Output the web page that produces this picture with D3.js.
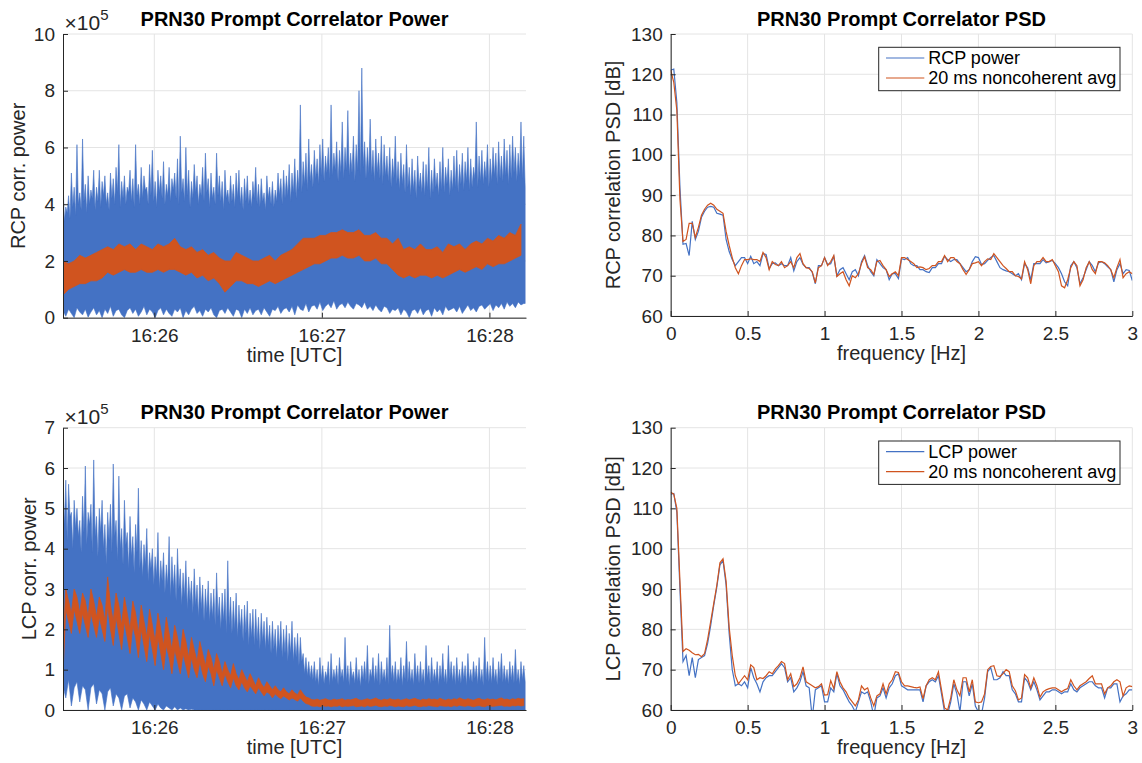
<!DOCTYPE html>
<html>
<head>
<meta charset="utf-8">
<script src="https://cdn.jsdelivr.net/npm/d3@7"></script>
<style>
  body { margin: 0; background: #fff; }
  svg { display: block; }
</style>
</head>
<body>
<svg id="fig" width="1142" height="763"></svg>
<script>
// ---------------------------------------------------------------------------
// PRN30 prompt correlator power (time domain, ×10^5) and its PSD, RCP and LCP.
// Time-domain traces are stored as decimated envelopes: per-second peaks,
// troughs and floors of the raw power, and a hi/lo band for the 20 ms
// noncoherent average.
// ---------------------------------------------------------------------------

// Time axis: 16:25:27.3 .. 16:28:13.1 UTC
const timeStart = Date.UTC(2016, 0, 1, 16, 25, 27, 300);
const timeEnd   = Date.UTC(2016, 0, 1, 16, 28, 13, 100);
const timeTickLabels = ["16:26", "16:27", "16:28"];

// ---- RCP raw power (×10^5) ----
// per-second peaks
const rcpPeak = [
  4.8,3.9,4.3,5.1,4.6,6.1,4.4,6.3,4.7,5.0,
  4.5,5.2,4.6,5.2,4.8,5.0,4.4,5.1,4.9,5.3,
  6.1,4.8,5.0,4.6,5.2,4.9,6.1,4.7,5.3,5.0,
  4.6,5.4,5.9,4.8,5.2,5.0,5.5,4.7,5.3,4.9,
  5.1,5.6,6.4,4.9,6.0,5.2,4.8,5.4,5.0,4.7,
  5.3,5.8,4.9,5.1,4.6,5.8,5.0,4.8,5.2,4.5,
  5.0,4.7,5.1,5.2,4.6,4.9,5.0,4.5,4.8,5.3,
  4.7,4.9,4.4,5.0,4.6,4.8,4.5,5.1,4.9,5.2,
  5.0,5.4,5.1,5.6,5.2,7.5,5.5,5.8,6.3,5.4,
  5.9,5.6,6.1,6.3,5.7,6.0,7.5,5.8,6.2,5.9,
  6.9,6.0,7.3,5.8,6.4,6.1,8.0,8.8,6.2,6.0,
  7.0,5.9,6.3,5.8,6.4,6.1,5.7,6.0,5.6,6.4,
  5.5,5.8,5.4,6.1,5.3,5.6,5.2,5.7,5.1,5.5,
  5.4,6.0,5.2,5.6,5.1,5.5,6.0,5.3,5.6,5.2,
  5.7,5.9,5.4,5.8,5.5,6.0,5.6,5.3,6.9,5.7,
  5.9,5.5,6.1,5.6,6.0,5.8,6.2,5.7,6.3,5.9,
  6.1,6.4,6.0,5.8,6.9,6.4
];
// per-second troughs of the upper edge (half a second after each peak)
const rcpTrough = [
  3.4,3.7,3.5,3.9,3.6,4.0,3.8,4.1,3.7,4.0,
  4.2,3.8,4.1,3.9,4.3,4.0,3.8,4.2,4.0,4.4,
  3.9,4.2,4.0,4.4,4.1,3.9,4.3,4.0,4.2,4.5,
  4.0,4.3,4.1,3.9,4.4,4.2,4.0,4.3,4.1,4.5,
  4.2,4.0,4.4,4.1,4.3,3.9,4.2,4.4,4.0,4.3,
  4.1,4.4,3.9,4.2,4.0,4.3,4.1,3.8,4.2,4.0,
  4.1,3.9,4.2,4.0,3.8,4.1,4.0,3.9,4.2,4.0,
  3.9,4.1,3.8,4.2,4.0,3.9,4.1,4.3,4.0,4.2,
  4.3,4.1,4.4,4.2,4.5,4.4,4.7,4.5,4.8,4.6,
  4.9,4.7,5.0,4.8,5.1,4.9,5.0,5.2,4.8,5.1,
  4.9,5.2,5.0,5.1,4.8,5.2,5.0,5.3,4.9,5.1,
  5.0,4.8,5.1,4.9,4.7,5.0,4.8,4.6,4.9,4.7,
  4.5,4.7,4.4,4.6,4.3,4.5,4.2,4.6,4.4,4.3,
  4.5,4.2,4.4,4.6,4.3,4.5,4.4,4.7,4.3,4.5,
  4.6,4.4,4.7,4.5,4.8,4.5,4.6,4.9,4.6,4.8,
  4.7,4.9,4.6,4.8,5.0,4.7,4.9,4.8,5.0,4.7,
  4.9,5.1,4.8,5.0,4.9,4.6
];
// per-second floor of the lower edge
const rcpFloor = [
  0.25,0.05,0.3,0.15,0.0,0.35,0.2,0.1,0.3,0.02,
  0.2,0.35,0.1,0.25,0.0,0.3,0.15,0.4,0.05,0.25,
  0.3,0.1,0.0,0.25,0.35,0.15,0.3,0.05,0.2,0.4,
  0.1,0.3,0.2,0.0,0.25,0.35,0.1,0.3,0.15,0.05,
  0.3,0.2,0.35,0.0,0.25,0.1,0.3,0.4,0.15,0.25,
  0.05,0.3,0.2,0.35,0.1,0.0,0.25,0.3,0.15,0.35,
  0.2,0.05,0.3,0.25,0.0,0.3,0.15,0.35,0.1,0.25,
  0.3,0.1,0.35,0.2,0.05,0.3,0.25,0.4,0.15,0.3,
  0.35,0.2,0.4,0.1,0.45,0.3,0.25,0.5,0.2,0.4,
  0.45,0.3,0.55,0.25,0.4,0.5,0.35,0.6,0.3,0.45,
  0.5,0.35,0.55,0.4,0.3,0.5,0.45,0.35,0.55,0.3,
  0.4,0.25,0.45,0.3,0.2,0.4,0.35,0.15,0.3,0.25,
  0.35,0.1,0.3,0.2,0.0,0.25,0.3,0.15,0.35,0.1,
  0.25,0.3,0.05,0.35,0.2,0.3,0.1,0.4,0.25,0.3,
  0.35,0.2,0.4,0.15,0.3,0.45,0.25,0.35,0.2,0.4,
  0.45,0.3,0.4,0.5,0.25,0.45,0.35,0.5,0.3,0.55,
  0.4,0.5,0.35,0.55,0.45,0.5
];
// ---- RCP 20 ms noncoherent average band (×10^5), every 2 s ----
const rcpAvgHi = [
  2.0,1.9,2.0,2.2,2.1,2.2,2.3,2.4,2.5,2.4,
  2.6,2.5,2.6,2.4,2.6,2.5,2.4,2.6,2.5,2.6,
  2.8,2.5,2.4,2.5,2.3,2.4,2.2,2.3,2.1,2.0,
  2.0,2.3,2.2,2.1,2.0,2.0,2.1,2.2,2.0,2.2,
  2.3,2.4,2.6,2.8,2.8,2.8,2.9,2.9,3.0,3.0,
  3.1,3.0,3.0,3.1,2.9,2.9,3.0,2.8,2.8,2.6,
  2.8,2.4,2.5,2.4,2.6,2.4,2.4,2.5,2.3,2.6,
  2.5,2.6,2.4,2.6,2.7,2.6,2.8,2.7,2.9,2.8,
  3.0,2.9,3.3
];
const rcpAvgLo = [
  0.8,1.0,1.1,1.2,1.2,1.3,1.3,1.4,1.6,1.5,
  1.6,1.7,1.6,1.6,1.7,1.6,1.6,1.7,1.6,1.7,
  1.7,1.6,1.5,1.6,1.4,1.5,1.3,1.4,1.2,0.9,
  1.1,1.3,1.3,1.2,1.2,1.1,1.2,1.3,1.2,1.3,
  1.4,1.5,1.6,1.7,1.8,1.9,1.9,2.0,2.1,2.1,
  2.2,2.1,2.1,2.2,2.0,2.0,2.1,1.9,1.9,1.7,
  1.5,1.4,1.5,1.4,1.5,1.5,1.4,1.5,1.4,1.5,
  1.6,1.7,1.6,1.7,1.8,1.7,1.9,1.8,1.9,1.9,
  2.0,2.1,2.2
];

// ---- LCP raw power (×10^5) ----
const lcpPeak = [
  5.5,5.7,5.6,4.9,5.2,5.0,4.7,5.3,6.05,4.9,
  5.1,6.2,4.8,5.0,5.2,4.6,4.9,5.1,6.1,4.7,
  5.8,4.5,5.2,4.4,4.8,4.3,4.6,5.5,4.2,4.1,
  4.5,3.9,4.0,3.8,4.4,3.7,3.9,3.6,4.3,3.8,
  3.6,4.0,3.5,3.4,3.7,3.3,3.2,3.5,3.1,3.3,
  3.1,3.0,3.2,2.9,3.0,3.4,2.8,2.9,3.0,3.7,
  2.8,2.7,2.9,2.6,2.5,2.6,2.7,2.4,2.5,2.5,
  2.3,2.4,2.2,2.3,2.1,2.2,2.0,2.1,2.2,2.0,
  2.1,1.9,2.2,1.8,1.9,1.8,1.4,1.3,1.2,1.1,
  1.2,1.0,1.3,1.1,0.95,1.2,1.4,1.0,1.1,1.3,
  1.0,1.8,1.1,1.2,0.95,1.3,1.0,1.1,1.2,1.6,
  1.0,1.3,1.1,1.4,1.2,1.0,1.3,2.1,1.1,1.2,
  1.0,1.3,1.1,1.7,1.2,1.0,1.4,1.1,1.2,1.0,
  1.6,1.1,1.3,1.0,1.2,1.1,1.4,1.0,1.6,1.2,
  1.1,1.3,1.0,1.2,1.1,1.4,1.0,1.2,1.1,1.3,
  1.0,1.8,1.2,1.1,1.3,1.0,1.2,1.4,1.1,1.0,
  1.2,1.1,1.5,1.0,1.2,1.1
];
const lcpTrough = [
  4.6,4.2,4.8,4.0,4.5,4.3,3.9,4.4,4.1,4.6,
  3.9,4.3,3.8,4.4,4.0,3.6,4.2,3.9,4.3,3.7,
  4.0,3.6,4.1,3.5,3.8,3.4,3.9,3.5,3.3,3.6,
  3.2,3.5,3.1,3.3,3.0,3.2,2.9,3.1,2.8,3.0,
  2.7,3.0,2.6,2.8,2.5,2.7,2.4,2.6,2.3,2.5,
  2.2,2.4,2.2,2.3,2.1,2.3,2.0,2.2,1.9,2.1,
  1.9,2.0,1.8,2.0,1.7,1.9,1.6,1.8,1.6,1.7,
  1.5,1.7,1.5,1.6,1.4,1.5,1.3,1.5,1.3,1.4,
  1.2,1.4,1.2,1.3,1.1,1.2,0.9,0.85,0.8,0.75,
  0.7,0.6,0.75,0.65,0.8,0.6,0.7,0.75,0.62,0.8,
  0.68,0.72,0.6,0.78,0.66,0.7,0.58,0.75,0.7,0.64,
  0.8,0.66,0.7,0.6,0.74,0.68,0.62,0.78,0.7,0.65,
  0.72,0.6,0.76,0.68,0.7,0.62,0.75,0.66,0.7,0.6,
  0.78,0.65,0.7,0.72,0.6,0.74,0.68,0.64,0.76,0.7,
  0.62,0.7,0.66,0.75,0.6,0.72,0.68,0.78,0.64,0.7,
  0.6,0.74,0.7,0.66,0.72,0.62,0.76,0.68,0.7,0.64,
  0.73,0.67,0.7,0.62,0.75,0.7
];
// floor for the first minute; it stays at zero afterwards
const lcpFloor = [
  0.6,0.3,0.75,0.1,0.55,0.7,0.2,0.6,0.5,0.0,
  0.55,0.65,0.15,0.5,0.4,0.0,0.45,0.55,0.1,0.4,
  0.3,0.0,0.35,0.4,0.05,0.3,0.2,0.0,0.25,0.15,
  0.0,0.2,0.1,0.0,0.15,0.05,0.0,0.1,0.05,0.0,
  0.08,0.0,0.05,0.0,0.03,0.0,0.02,0.0,0.0,0.0
];
// ---- LCP 20 ms noncoherent average band (×10^5), every 1 s ----
const lcpAvgHi = [
  1.6,3.0,2.7,2.4,3.0,2.8,2.4,2.9,2.7,2.3,
  3.0,2.7,2.3,2.8,2.6,2.2,3.3,2.6,2.2,2.9,
  2.6,2.1,2.8,2.4,2.0,2.7,2.4,1.9,2.6,2.2,
  1.8,2.5,2.1,1.7,2.4,2.0,1.6,2.3,1.9,1.5,
  2.1,1.8,1.4,2.0,1.7,1.3,1.8,1.5,1.2,1.7,
  1.4,1.1,1.5,1.3,1.0,1.4,1.2,0.9,1.2,1.0,
  0.85,1.15,0.9,0.75,1.0,0.85,0.7,0.9,0.75,0.6,
  0.8,0.65,0.55,0.7,0.6,0.5,0.6,0.5,0.45,0.55,
  0.45,0.4,0.5,0.42,0.38,0.5,0.4,0.32,0.3,0.26,
  0.25,0.27,0.24,0.26,0.28,0.25,0.24,0.27,0.25,0.26,
  0.28,0.24,0.26,0.25,0.27,0.29,0.25,0.24,0.26,0.28,
  0.25,0.27,0.3,0.26,0.24,0.27,0.25,0.28,0.26,0.25,
  0.27,0.24,0.26,0.28,0.25,0.27,0.29,0.26,0.24,0.27,
  0.25,0.28,0.26,0.27,0.25,0.29,0.26,0.24,0.27,0.25,
  0.28,0.26,0.3,0.27,0.25,0.28,0.26,0.24,0.27,0.29,
  0.26,0.25,0.28,0.26,0.27,0.25,0.28,0.3,0.26,0.27,
  0.25,0.28,0.26,0.29,0.27,0.28
];
const lcpAvgLo = [
  0.9,2.5,2.2,1.9,2.5,2.2,1.9,2.4,2.1,1.8,
  2.4,2.1,1.8,2.3,2.0,1.7,2.6,2.0,1.6,2.3,
  1.9,1.5,2.2,1.8,1.4,2.1,1.8,1.3,2.0,1.6,
  1.2,1.9,1.5,1.1,1.8,1.4,1.0,1.6,1.3,0.9,
  1.5,1.2,0.9,1.4,1.1,0.8,1.3,1.0,0.8,1.2,
  0.9,0.7,1.1,0.9,0.6,1.0,0.8,0.6,0.9,0.7,
  0.55,0.8,0.6,0.5,0.7,0.55,0.45,0.6,0.5,0.4,
  0.55,0.45,0.35,0.45,0.4,0.3,0.4,0.33,0.28,0.35,
  0.3,0.25,0.3,0.26,0.22,0.3,0.22,0.16,0.14,0.1,
  0.09,0.1,0.08,0.11,0.09,0.1,0.08,0.1,0.09,0.11,
  0.08,0.1,0.09,0.1,0.11,0.08,0.09,0.1,0.08,0.11,
  0.09,0.1,0.12,0.09,0.08,0.1,0.09,0.11,0.1,0.08,
  0.1,0.09,0.08,0.11,0.09,0.1,0.12,0.09,0.08,0.1,
  0.09,0.11,0.1,0.09,0.08,0.11,0.1,0.09,0.1,0.08,
  0.11,0.09,0.12,0.1,0.09,0.11,0.1,0.08,0.1,0.11,
  0.09,0.08,0.11,0.1,0.09,0.1,0.11,0.12,0.09,0.1,
  0.09,0.11,0.1,0.12,0.1,0.11
];

// ---- PSD (dB), frequency grid 0 .. 3 Hz in 0.02 Hz steps ----
const psdStepHz = 0.02;
const rcpPowerPsd = [
  121,121.3,113,92,77.8,78,75,83.5,79,81,
  84.5,86,87,87.2,87,85.5,85.3,85,79,76,
  74,72.5,73.5,74.5,74.5,73,74.8,73,73.5,72.5,
  75.5,75.3,71.8,73,73.2,72.5,73,72.5,72.5,74.5,
  71.2,73.5,74.5,72.8,72,72,70.8,68,72.5,72.5,
  74.5,72.8,73,74.8,70,71.5,72,70.5,69,71,
  71.5,70,73.5,75,72.5,71,70,74,73,72,
  71.5,69,70.5,70.5,69.3,74.2,74,74.5,73,72.5,
  72.5,71.5,71.5,71,70.8,72,72,73,73,74.8,
  74,73.5,74,74,73,72,71,71.5,73.5,74.7,
  74.5,72.8,73,73.8,74.5,75,73.5,72,71.5,71.2,
  71,70.5,70,70.5,69,73,72,69,73,73,
  73,74,73.2,73.5,73.8,73,72,70.5,68.5,67.5,
  72.5,73.5,72,68,69.5,71.5,73.5,72.5,71,73.2,
  73.5,73,72.2,71.5,68.5,71.5,73,70.5,71.5,71.3,
  68.8
];
const rcpAvgPsd = [
  121,118,111,89,78.5,79,83,83,79.5,82,
  85,86.5,87.5,88,87.5,86.5,86,85.5,81,77.5,
  74.5,72,70.5,72.5,74,74,74.2,74,74,73.5,
  75.8,74.5,71.5,73.5,72.8,72.5,73.5,72,72.5,73.5,
  72,74.5,75.5,73,72,71.8,71,68.2,72,72.5,
  74.5,72.5,73.5,75,69.8,70.5,71,69,67.5,70,
  69.5,70.5,73,74.7,72,71.5,70.3,73.5,73.8,72.5,
  71.5,69.8,70.5,71,70,74.5,74.5,74,73.5,73,
  72,72.2,72,71.5,71.8,72.5,72.5,73.5,73.5,75,
  73.5,74.5,74.5,73.5,73,71.5,70.3,71.5,73,73.2,
  73.5,72.5,73.5,74.2,74,75.5,74.5,73.5,72.5,71.8,
  71,71,70,69.8,69.2,73.5,71.5,68,72.5,73.5,
  73.5,74.5,73.5,73.5,74,72.5,71,67.5,67,69,
  72,73.5,72.5,67.5,69,72,73.5,71.5,70.5,73.5,
  73.5,73.2,72.5,71.5,69.5,72,74,69.5,70.5,71,
  70.5
];
const lcpPowerPsd = [
  113.5,113.7,109,90,72,73.5,68.5,73,68,72.5,
  73,73.5,76.5,81,86,90.5,96,97,91,79,
  70,66,66.5,66,67,65.5,70.5,68,66.5,64.5,
  67,68,68.5,68.5,69.5,70.5,71.5,70.5,67,68,
  64.5,65.5,67,69.5,66,65.5,58,65,65.5,66,
  62,62,65.5,64.5,69,66,65,63.5,62,61,
  59.5,62,64.5,64,64.5,62,58.5,63,63.5,65.5,
  63,65.5,66.5,68.5,69,66,65.5,65,65,65,
  65,65,62,66,67,67.5,67,68.5,64,59.5,
  59,62,66.5,64,59.5,67,67,63.5,66.5,61,
  59.5,59,63,69.5,70.5,67.5,67.5,68,69.5,68.5,
  68.5,65,64,62,62,68,67,65,67,65,
  62.5,63.5,64.5,64.5,65,65,64.5,64,64.5,64.5,
  66.5,65,64.5,65.5,66,66.5,67,67,66,65.5,
  65.5,63,65.5,65.5,66.5,66.5,62,63.5,64,65,
  65
];
const lcpAvgPsd = [
  114,113.5,110,92,74.5,75.2,74.8,74.2,73.7,73.8,
  73.2,74,77.5,82,86.5,91,96.5,97.5,92,80.5,
  73.5,68.5,66.5,67.5,68.5,67.5,71.2,70.5,67.5,68,
  67.8,68.5,69.5,69,70.2,71,72,71.5,67.5,69,
  65.8,66.5,68,70.7,67,66.5,66,65.5,65.8,66.5,
  63.7,63.8,67.3,65.3,69.5,67,65.5,64.5,63,62,
  61,62.5,66,65,65.5,63,61,63.5,64,66.5,
  64,66.5,67.5,69.5,69.3,67,66,66,65.8,65.6,
  65.5,65.7,62.8,66,67.5,68,67.5,69.5,65,60.5,
  60,63,67.5,65,63.5,68,68,64.5,67.5,62,
  61.8,62,64,70,70.8,71,68.5,68.3,69,70,
  69.5,66,64.8,62.5,63,68.8,68,65.5,68,66,
  63.2,64.5,65,65.3,65.5,65.5,65,64.5,65,65.3,
  67.5,66,65,66,66.5,67,67.8,68.5,66.5,66.5,
  66.5,64,65.5,66,67,67.5,67,63.5,65.5,66,
  65.8
];

const powerTicksRcp = [0, 2, 4, 6, 8, 10];
const powerTicksLcp = [0, 1, 2, 3, 4, 5, 6, 7];
const psdTicksY = [60, 70, 80, 90, 100, 110, 120, 130];
const psdTicksX = [0, 0.5, 1, 1.5, 2, 2.5, 3];

// ---------------------------------------------------------------------------
const FONT = "'Liberation Sans', Arial, Helvetica, sans-serif";
const BLUE = "#4472C4";
const ORANGE = "#D0541F";
const AXIS = "#262626";
const GRID = "#e4e4e4";

const svg = d3.select("#fig");
svg.append("rect").attr("width", 1142).attr("height", 763).attr("fill", "#fff");

let clipCount = 0;
function addClip(p) {
  const id = "clip" + (clipCount++);
  svg.append("clipPath").attr("id", id).append("rect")
    .attr("x", p.left).attr("y", p.top)
    .attr("width", p.right - p.left).attr("height", p.bottom - p.top);
  return "url(#" + id + ")";
}

function styleAxis(g, size) {
  g.attr("font-family", FONT).attr("font-size", size);
  g.select(".domain").attr("stroke", AXIS).attr("stroke-width", 1);
  g.selectAll(".tick line").attr("stroke", AXIS).attr("stroke-width", 1);
  g.selectAll(".tick text").attr("fill", AXIS);
}

function drawGrid(p, x, y, xTicks, yTicks) {
  const g = svg.append("g").attr("stroke", GRID).attr("stroke-width", 1);
  g.selectAll("line.gx").data(xTicks).join("line").attr("class", "gx")
    .attr("x1", d => x(d)).attr("x2", d => x(d))
    .attr("y1", p.top).attr("y2", p.bottom);
  g.selectAll("line.gy").data(yTicks).join("line").attr("class", "gy")
    .attr("x1", p.left).attr("x2", p.right)
    .attr("y1", d => y(d)).attr("y2", d => y(d));
}

function drawTexts(p, title, xLabel, yLabel, yLabelX) {
  const cx = (p.left + p.right) / 2;
  svg.append("text").attr("x", cx).attr("y", p.top - 8.5)
    .attr("text-anchor", "middle").attr("font-family", FONT)
    .attr("font-size", 20).attr("font-weight", "bold").attr("fill", "#000")
    .text(title);
  svg.append("text").attr("x", cx).attr("y", p.bottom + 44)
    .attr("text-anchor", "middle").attr("font-family", FONT)
    .attr("font-size", 20).attr("fill", AXIS).text(xLabel);
  svg.append("text")
    .attr("transform", `translate(${yLabelX},${(p.top + p.bottom) / 2}) rotate(-90)`)
    .attr("text-anchor", "middle").attr("font-family", FONT)
    .attr("font-size", 20).attr("fill", AXIS).text(yLabel);
}

const msAt = (i, stepSec, offsetSec = 0) => timeStart + (i * stepSec + offsetSec) * 1000;

function powerPanel(p, s) {
  const x = d3.scaleUtc().domain([new Date(timeStart), new Date(timeEnd)])
    .range([p.left, p.right]);
  const y = d3.scaleLinear().domain([0, s.ymax]).range([p.bottom, p.top]);
  const minuteTicks = x.ticks(d3.utcMinute.every(1));

  drawGrid(p, x, y, minuteTicks, s.yTicks);

  const clip = addClip(p);
  const g = svg.append("g").attr("clip-path", clip);

  // floor of the raw power, sampled once per second
  const floorAt = d3.scaleLinear()
    .domain(s.floor.map((d, i) => msAt(i, 1)))
    .range(s.floor).clamp(true);

  // raw power: upper edge alternates per-second peaks and troughs
  const pts = [];
  s.peak.forEach((v, i) => {
    pts.push({ t: msAt(i, 1), v });
    pts.push({ t: msAt(i, 1, 0.5), v: s.trough[i] });
  });
  g.append("path").datum(pts)
    .attr("fill", BLUE).attr("stroke", BLUE).attr("stroke-width", 0.6)
    .attr("d", d3.area()
      .x(d => x(d.t))
      .y0(d => y(floorAt(d.t)))
      .y1(d => y(d.v)));

  // 20 ms noncoherent average band
  g.append("path")
    .datum(d3.range(s.avgHi.length))
    .attr("fill", ORANGE).attr("stroke", ORANGE).attr("stroke-width", 0.8)
    .attr("d", d3.area()
      .x(i => x(msAt(i, s.avgStep)))
      .y0(i => y(s.avgLo[i]))
      .y1(i => y(s.avgHi[i])));

  // axes
  const ax = svg.append("g").attr("transform", `translate(0,${p.bottom})`)
    .call(d3.axisBottom(x).tickValues(minuteTicks)
      .tickFormat((d, i) => timeTickLabels[i])
      .tickSize(-5).tickSizeOuter(0).tickPadding(10.5));
  styleAxis(ax, 19);
  const ay = svg.append("g").attr("transform", `translate(${p.left},0)`)
    .call(d3.axisLeft(y).tickValues(s.yTicks).tickFormat(d3.format("d"))
      .tickSize(-5).tickSizeOuter(0).tickPadding(8));
  styleAxis(ay, 19);

  // exponent marker
  const ex = svg.append("text").attr("x", p.left + 1.5).attr("y", p.top - 4)
    .attr("font-family", FONT).attr("fill", AXIS);
  ex.append("tspan").attr("font-size", 21).text("×10");
  ex.append("tspan").attr("font-size", 15).attr("dy", -10).text("5");

  drawTexts(p, "PRN30 Prompt Correlator Power", "time [UTC]", s.yLabel, s.yLabelX);
}

function psdPanel(p, s) {
  const x = d3.scaleLinear().domain([0, 3]).range([p.left, p.right]);
  const y = d3.scaleLinear().domain([60, 130]).range([p.bottom, p.top]);
  drawGrid(p, x, y, psdTicksX, psdTicksY);

  const clip = addClip(p);
  const g = svg.append("g").attr("clip-path", clip);
  const line = d3.line().x((d, i) => x(i * psdStepHz)).y(d => y(d));
  g.append("path").datum(s.power).attr("fill", "none")
    .attr("stroke", BLUE).attr("stroke-width", 1.2).attr("d", line);
  g.append("path").datum(s.avg).attr("fill", "none")
    .attr("stroke", ORANGE).attr("stroke-width", 1.2).attr("d", line);

  const ax = svg.append("g").attr("transform", `translate(0,${p.bottom})`)
    .call(d3.axisBottom(x).tickValues(psdTicksX).tickFormat(d3.format("~g"))
      .tickSize(-5).tickSizeOuter(0).tickPadding(10.5));
  styleAxis(ax, 19);
  const ay = svg.append("g").attr("transform", `translate(${p.left},0)`)
    .call(d3.axisLeft(y).tickValues(psdTicksY).tickFormat(d3.format("d"))
      .tickSize(-5).tickSizeOuter(0).tickPadding(8));
  styleAxis(ay, 19);

  // legend
  const bx = 878.7, bw = 241.3, by = p.top + 13.3, bh = 43.4;
  const lg = svg.append("g");
  lg.append("rect").attr("x", bx).attr("y", by).attr("width", bw).attr("height", bh)
    .attr("fill", "#fff").attr("stroke", AXIS).attr("stroke-width", 1);
  const items = [{ label: s.legend[0], color: BLUE }, { label: s.legend[1], color: ORANGE }];
  items.forEach((it, k) => {
    const yy = by + 10.7 + k * 20;
    lg.append("line").attr("x1", bx + 7.3).attr("x2", bx + 45.6)
      .attr("y1", yy).attr("y2", yy).attr("stroke", it.color).attr("stroke-width", 1.2);
    lg.append("text").attr("x", bx + 49.5).attr("y", yy).attr("dy", "0.35em")
      .attr("font-family", FONT).attr("font-size", 18).attr("fill", "#000")
      .text(it.label);
  });

  drawTexts(p, "PRN30 Prompt Correlator PSD", "frequency [Hz]", s.yLabel, 620);
}

powerPanel({ left: 63, right: 526, top: 34, bottom: 317.7 }, {
  ymax: 10, yTicks: powerTicksRcp,
  peak: rcpPeak, trough: rcpTrough, floor: rcpFloor,
  avgHi: rcpAvgHi, avgLo: rcpAvgLo, avgStep: 2,
  yLabel: "RCP corr. power", yLabelX: 24.5
});
powerPanel({ left: 63, right: 526, top: 427.7, bottom: 710 }, {
  ymax: 7, yTicks: powerTicksLcp,
  peak: lcpPeak, trough: lcpTrough, floor: lcpFloor,
  avgHi: lcpAvgHi, avgLo: lcpAvgLo, avgStep: 1,
  yLabel: "LCP corr. power", yLabelX: 35.5
});
psdPanel({ left: 670.7, right: 1132.3, top: 34, bottom: 316 }, {
  power: rcpPowerPsd, avg: rcpAvgPsd,
  legend: ["RCP power", "20 ms noncoherent avg"],
  yLabel: "RCP correlation PSD [dB]"
});
psdPanel({ left: 670.7, right: 1132.3, top: 427.7, bottom: 710 }, {
  power: lcpPowerPsd, avg: lcpAvgPsd,
  legend: ["LCP power", "20 ms noncoherent avg"],
  yLabel: "LCP correlation PSD [dB]"
});
</script>
</body>
</html>
